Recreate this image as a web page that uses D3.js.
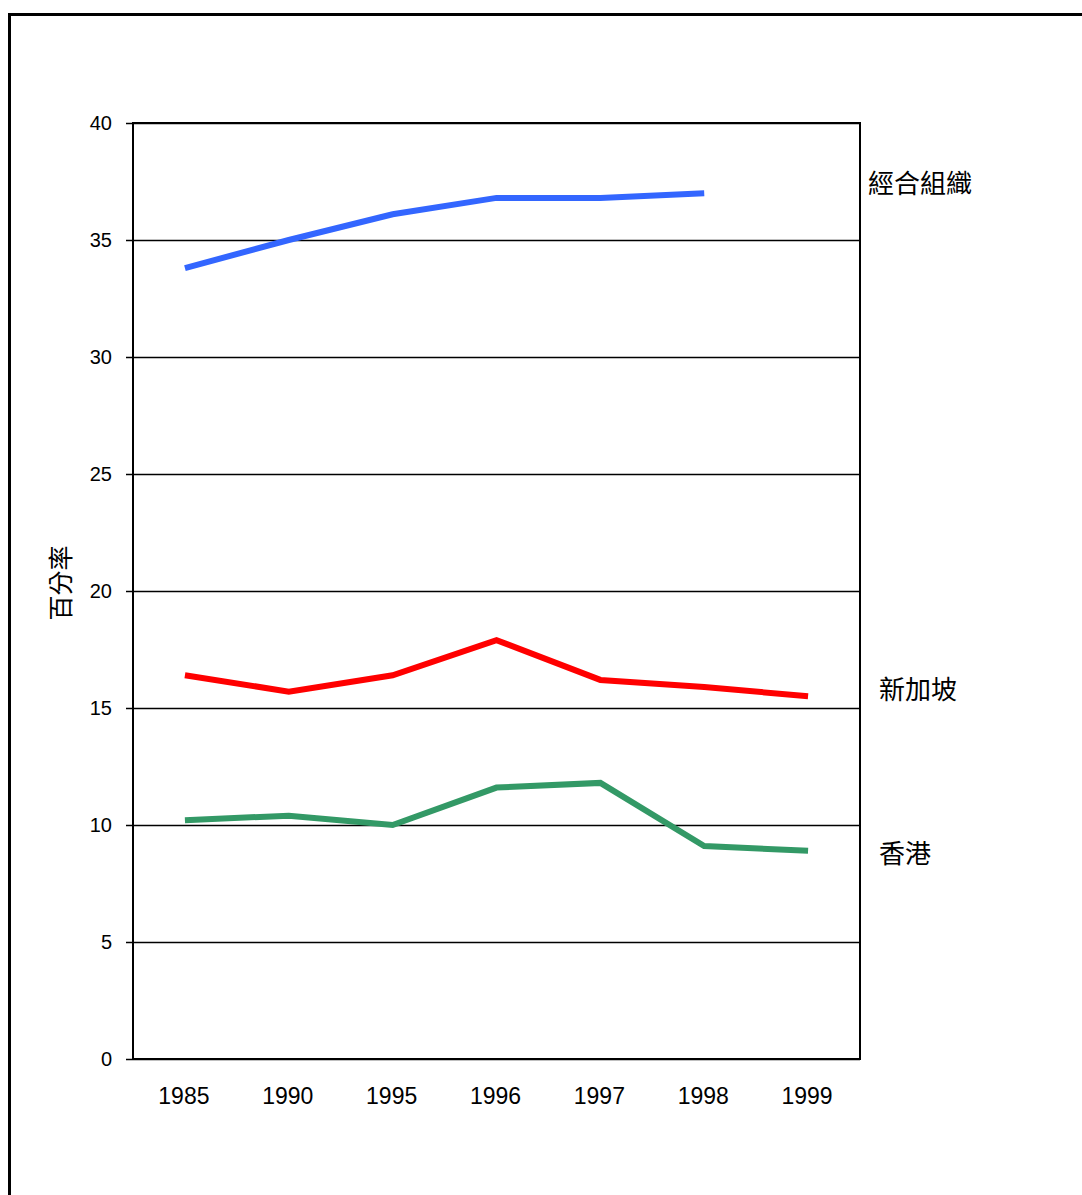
<!DOCTYPE html>
<html>
<head>
<meta charset="utf-8">
<script src="https://cdn.jsdelivr.net/npm/d3@7"></script>
<style>
  body { margin: 0; background: #fff; }
  svg text { font-family: "Liberation Sans", Arial, sans-serif; fill: #000; }
  svg text.cjk { font-family: "Noto Sans CJK TC", "Noto Sans CJK SC", sans-serif; }
</style>
</head>
<body>
<div id="chart"></div>
<script>
// Datos del gráfico
const years = ["1985", "1990", "1995", "1996", "1997", "1998", "1999"];
const oecd = [33.8, 35.0, 36.1, 36.8, 36.8, 37.0, null];
const singapore = [16.4, 15.7, 16.4, 17.9, 16.2, 15.9, 15.5];
const hongKong = [10.2, 10.4, 10.0, 11.6, 11.8, 9.1, 8.9];
const seriesNames = ["經合組織", "新加坡", "香港"];
const yTicks = [0, 5, 10, 15, 20, 25, 30, 35, 40];

const width = 1082, height = 1195;
const margin = { left: 133, right: 222, top: 123, bottom: 136 };

const svg = d3.select("#chart")
  .append("svg")
  .attr("width", width)
  .attr("height", height);

// Marco exterior
svg.append("rect")
  .attr("x", 9.5).attr("y", 14.5)
  .attr("width", width).attr("height", height)
  .attr("fill", "none")
  .attr("stroke", "#000")
  .attr("stroke-width", 3);

const x = d3.scalePoint()
  .domain(years)
  .range([margin.left, width - margin.right])
  .padding(0.5);

const y = d3.scaleLinear()
  .domain([0, 40])
  .range([height - margin.bottom, margin.top]);

// Líneas de cuadrícula y eje Y
const yAxis = svg.append("g")
  .attr("transform", `translate(${margin.left},0)`)
  .call(d3.axisLeft(y).tickValues(yTicks)
    .tickSize(-(width - margin.right - margin.left))
    .tickSizeOuter(0)
    .tickPadding(21));
yAxis.select(".domain").remove();
yAxis.selectAll(".tick line").attr("stroke", "#000").attr("stroke-width", 1.5)
  .attr("x1", -7);
yAxis.selectAll(".tick text").attr("font-size", 20);

// Marco del área del gráfico
svg.append("rect")
  .attr("x", margin.left).attr("y", margin.top)
  .attr("width", width - margin.right - margin.left)
  .attr("height", height - margin.bottom - margin.top)
  .attr("fill", "none")
  .attr("stroke", "#000")
  .attr("stroke-width", 2);

// Etiquetas del eje X
svg.append("g")
  .selectAll("text")
  .data(years)
  .join("text")
  .attr("x", d => x(d) - 1)
  .attr("y", 1104)
  .attr("text-anchor", "middle")
  .attr("font-size", 23)
  .text(d => d);

// Título del eje Y
svg.append("text")
  .attr("class", "cjk")
  .attr("transform", "translate(70,583) rotate(-90)")
  .attr("text-anchor", "middle")
  .attr("font-size", 25)
  .text("百分率");

const line = d3.line()
  .defined(d => d != null)
  .x((d, i) => x(years[i]))
  .y(d => y(d));

const series = [
  { name: seriesNames[0], values: oecd, color: "#3366ff", lx: 868, ly: 193 },
  { name: seriesNames[1], values: singapore, color: "#ff0000", lx: 879, ly: 699 },
  { name: seriesNames[2], values: hongKong, color: "#339966", lx: 879, ly: 863 }
];

svg.append("g")
  .selectAll("path")
  .data(series)
  .join("path")
  .attr("d", d => line(d.values))
  .attr("fill", "none")
  .attr("stroke", d => d.color)
  .attr("stroke-width", 6);

svg.append("g")
  .selectAll("text")
  .data(series)
  .join("text")
  .attr("class", "cjk")
  .attr("x", d => d.lx)
  .attr("y", d => d.ly)
  .attr("font-size", 26)
  .text(d => d.name);
</script>
</body>
</html>
